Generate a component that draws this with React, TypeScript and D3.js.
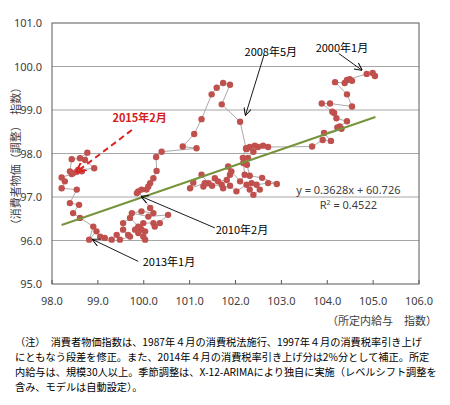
import * as d3 from 'd3';

// wage index (x) and consumer price index (y), monthly path Jan 2000 -> Feb 2015
const wageIdx = [
  105.04, 104.99, 104.86, 104.49, 104.43, 104.54, 104.38, 104.17, 104.43, 104.54,
  104.06, 103.88, 104.11, 104.15, 104.2, 104.43, 104.27, 104.22, 104.31, 103.93,
  104.08, 103.9, 103.67,
  102.71, 102.6, 102.49, 102.42, 102.31, 102.24, 102.39, 102.27,
  102.17, 102.2, 102.1, 101.91, 101.84, 101.88, 101.81, 101.62, 101.55, 101.41,
  101.26, 101.08, 101.01, 101.33, 101.3, 101.49, 101.7, 101.73, 101.88, 102.02,
  102.24, 102.35, 102.31, 102.39, 102.53, 102.46, 102.71, 102.9, 102.58, 102.31,
  102.25, 102.16, 102.23,
  102.1, 101.7, 101.88, 101.73, 101.59, 101.48, 101.26, 101.1, 100.85, 101.15,
  100.39, 100.27, 100.28, 100.21, 100.14, 100.1, 100.06, 99.95, 99.85, 99.88,
  100.14, 100.21, 99.95, 99.74, 100.1, 100.53, 100.24, 100.35, 100.21, 99.99,
  99.88, 99.95, 99.81, 100.03, 99.88, 99.99, 100.03, 99.92, 99.7, 99.55,
  99.55, 99.66, 99.7, 99.48, 99.41, 99.3, 99.15, 99.05, 98.97, 98.81,
  98.9, 98.61, 98.46, 98.59, 98.39, 98.54, 98.21, 98.28, 98.21, 98.43,
  98.46, 98.65, 98.39, 98.43, 98.61, 98.77, 98.72, 98.92, 98.57, 98.54,
];
const cpiIdx = [
  99.78, 99.85, 99.83, 99.71, 99.69, 99.67, 99.62, 99.64, 99.36, 99.08,
  99.15, 99.15, 98.96, 98.93, 98.81, 98.74, 98.62, 98.6, 98.57, 98.47,
  98.29, 98.31, 98.16,
  98.15, 98.18, 98.15, 98.18, 98.15, 98.1, 98.04, 97.9,
  97.78, 97.51, 97.36, 97.59, 97.7, 97.51, 97.39, 97.36, 97.43, 97.32,
  97.51, 97.33, 97.2, 97.32, 97.24, 97.26, 97.28, 97.2, 97.26, 97.13,
  97.28, 97.32, 97.17, 97.05, 97.17, 97.28, 97.32, 97.3, 97.44, 97.49,
  97.74, 97.9, 98.12,
  98.73, 99.13, 99.58, 99.62, 99.51, 99.36, 98.79, 98.45, 98.16, 98.12,
  98.04, 97.92, 97.6, 97.43, 97.32, 97.24, 97.17, 97.17, 97.09, 97.13,
  96.75, 96.63, 96.67, 96.63, 96.55, 96.59, 96.32, 96.4, 96.4, 96.4,
  96.32, 96.25, 96.25, 96.21, 96.17, 96.09, 96.02, 96.29, 96.52, 96.4,
  96.25, 96.13, 96.09, 96.02, 96.13, 96.02, 96.06, 96.09, 96.21, 96.02,
  96.32, 96.52, 96.63, 96.82, 96.86, 97.17, 97.2, 97.36, 97.45, 97.53,
  97.55, 97.59, 97.59, 97.87, 97.89, 98.02, 97.85, 97.66, 97.62, 97.58,
];

const xTicks = [98, 99, 100, 101, 102, 103, 104, 105, 106];
const yTicks = [95, 96, 97, 98, 99, 100, 101];

// linear trend as printed in the chart
const slope = 0.3628;
const intercept = 60.726;
const trendRange = [98.21, 105.05];

// black arrow callouts: label, label position, arrow start, arrow end (data units)
const callouts = [
  { text: '2000年1月', at: [104.32, 100.43], from: [104.25, 100.3], to: [104.75, 99.92] },
  { text: '2008年5月', at: [102.77, 100.33], from: [102.62, 100.26], to: [102.22, 98.89] },
  { text: '2010年2月', at: [102.14, 96.25], from: [101.55, 96.29], to: [99.95, 97.01] },
  { text: '2013年1月', at: [100.55, 95.5], from: [99.88, 95.52], to: [98.89, 96.02] },
];
const latest = { text: '2015年2月', at: [99.91, 98.81], from: [99.74, 98.54], to: [98.54, 97.58] };

const noteLines = [
  '（注）　消費者物価指数は、1987年４月の消費税法施行、1997年４月の消費税率引き上げ',
  'にともなう段差を修正。また、2014年４月の消費税率引き上げ分は2%分として補正。所定',
  '内給与は、規模30人以上。季節調整は、X-12-ARIMAにより独自に実施（レベルシフト調整を',
  '含み、モデルは自動設定）。',
];

const JP = '"Noto Sans CJK JP", "Noto Sans", sans-serif';
const NUM = '"Noto Sans", "Liberation Sans", sans-serif';

export default function App() {
  const left = 52;
  const right = 419;
  const top = 23;
  const bottom = 284;

  const x = d3.scaleLinear().domain([98, 106]).range([left, right]);
  const y = d3.scaleLinear().domain([95, 101]).range([bottom, top]);

  const pts = wageIdx.map((w, i) => [w, cpiIdx[i]] as [number, number]);
  const path = d3.line<[number, number]>().x(d => x(d[0])).y(d => y(d[1]))(pts) || '';

  return (
    <svg width={450} height={405} style={{ position: 'absolute', left: 0, top: 0, background: '#fff' }}>
      <defs>
        <marker id="arr" viewBox="0 0 10 10" refX="9" refY="5" markerWidth="9" markerHeight="9" orient="auto">
          <path d="M0,0 L10,5 L0,10" fill="none" stroke="#000" strokeWidth={1.2} />
        </marker>
        <marker id="arrRed" viewBox="0 0 10 10" refX="9" refY="5" markerWidth="5" markerHeight="5" orient="auto">
          <path d="M0,0 L10,5 L0,10" fill="none" stroke="#E02020" strokeWidth={2} />
        </marker>
      </defs>

      {/* grid */}
      {yTicks.slice(1, -1).map(t => (
        <line key={t} x1={left} x2={right} y1={y(t)} y2={y(t)} stroke="#A6A6A6" strokeWidth={1} />
      ))}
      <rect x={left} y={top} width={right - left} height={bottom - top} fill="none" stroke="#595959" strokeWidth={1} />
      {xTicks.map(t => (
        <line key={t} x1={x(t)} x2={x(t)} y1={bottom} y2={bottom - 4} stroke="#595959" />
      ))}

      {/* axis labels */}
      {yTicks.map(t => (
        <text key={t} x={42} y={y(t) + 4} textAnchor="end" fontSize={11} fontFamily={NUM} fill="#404040">
          {t.toFixed(1)}
        </text>
      ))}
      {xTicks.map(t => (
        <text key={t} x={x(t)} y={305} textAnchor="middle" fontSize={11} fontFamily={NUM} fill="#404040">
          {t.toFixed(1)}
        </text>
      ))}
      <text transform={`translate(20,156) rotate(-90)`} textAnchor="middle" fontSize={11} fontFamily={JP} fill="#404040">
        （消費者物価（調整）　指数）
      </text>
      <text x={437} y={325} textAnchor="end" fontSize={11} fontFamily={JP} fill="#404040">
        （所定内給与　指数）
      </text>

      {/* data path */}
      <path d={path} fill="none" stroke="#A0A0A0" strokeWidth={0.9} />
      {pts.map((p, i) => (
        <circle key={i} cx={x(p[0])} cy={y(p[1])} r={3.2} fill="#C0504D" />
      ))}

      {/* trend */}
      <line
        x1={x(trendRange[0])}
        y1={y(slope * trendRange[0] + intercept)}
        x2={x(trendRange[1])}
        y2={y(slope * trendRange[1] + intercept)}
        stroke="#77933C"
        strokeWidth={2}
      />
      <text x={x(104.46)} y={y(97.17) + 4} textAnchor="middle" fontSize={11} fontFamily={NUM} fill="#404040">
        y = 0.3628x + 60.726
      </text>
      <text x={x(104.46)} y={y(96.82) + 4} textAnchor="middle" fontSize={11} fontFamily={NUM} fill="#404040">
        R<tspan dy={-4} fontSize={7}>2</tspan><tspan dy={4}> = 0.4522</tspan>
      </text>

      {/* callouts */}
      {callouts.map(c => (
        <g key={c.text}>
          <line
            x1={x(c.from[0])}
            y1={y(c.from[1])}
            x2={x(c.to[0])}
            y2={y(c.to[1])}
            stroke="#000"
            strokeWidth={0.9}
            markerEnd="url(#arr)"
          />
          <text x={x(c.at[0])} y={y(c.at[1]) + 4} textAnchor="middle" fontSize={11} fontFamily={JP} fill="#000">
            {c.text}
          </text>
        </g>
      ))}
      <line
        x1={x(latest.from[0])}
        y1={y(latest.from[1])}
        x2={x(latest.to[0])}
        y2={y(latest.to[1])}
        stroke="#E02020"
        strokeWidth={2}
        strokeDasharray="6,4"
        markerEnd="url(#arrRed)"
      />
      <text x={x(latest.at[0])} y={y(latest.at[1]) + 4} textAnchor="middle" fontSize={11} fontWeight="bold" fontFamily={JP} fill="#D42020">
        {latest.text}
      </text>

      {/* note */}
      {noteLines.map((l, i) => (
        <text key={i} x={15} y={345.5 + i * 15.3} fontSize={10.2} fontFamily={JP} fill="#000">
          {l}
        </text>
      ))}
    </svg>
  );
}
